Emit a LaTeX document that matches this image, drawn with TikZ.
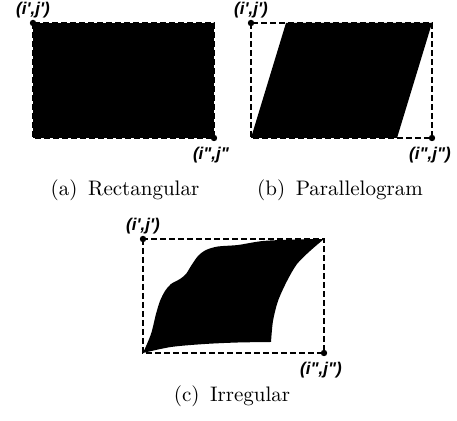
\documentclass[tikz,border=0pt]{standalone}
\usepackage{fontspec}
\newfontfamily\lblfont{Liberation Sans}
\usetikzlibrary{positioning}

\begin{document}
\begin{tikzpicture}[
  x=0.5pt, y=-0.5pt,
  line width=0.75pt,
  frame/.style={dash pattern=on 3pt off 1.5pt},
  dot/.style={circle,fill=black,inner sep=0pt,minimum size=3.2pt},
  corner/.style={font=\lblfont\bfseries\itshape\fontsize{8.5}{10}\selectfont,inner sep=0pt},
  caption/.style={font=\fontsize{10.5}{12}\selectfont,inner sep=0pt}
]%
  \useasboundingbox (0,0) rectangle (457,421);

  % (a) rectangular
  \node[dot] (a1) at (33,23) {};
  \node[dot] (a2) at (214,138) {};
  \fill (a1.center) rectangle (a2.center);
  \draw[frame] (a1.center) rectangle (a2.center);
  \node[corner,above=0pt of a1] (la1) {(i\textquotesingle,j\textquotesingle)};
  \node[corner,below=2pt of a2,xshift=-1.5pt] (la2) {(i",j"};
  \node[caption] (ca) at (125,190) {(a)\enspace Rectangular};

  % (b) parallelogram
  \node[dot] (b1) at (251,23) {};
  \node[dot] (b2) at (432,138) {};
  \coordinate (b3) at (286,23);
  \coordinate (b4) at (397,138);
  \draw[frame] (b1.center) rectangle (b2.center);
  \fill (b1.center |- b2.center) -- (b3) -- (b2.center |- b1.center) -- (b4) -- cycle;
  \node[corner,above=0pt of b1] (lb1) {(i\textquotesingle,j\textquotesingle)};
  \node[corner,below=2pt of b2,xshift=-1pt] (lb2) {(i",j")};
  \node[caption] (cb) at (340,190) {(b)\enspace Parallelogram};

  % (c) irregular
  \node[dot] (c1) at (143,239) {};
  \node[dot] (c2) at (324,353) {};
  \draw[frame] (c1.center) rectangle (c2.center);
  \fill plot[smooth] coordinates {(143,353) (151,334) (156,314) (160,301)
      (165,291) (171,284) (180,279) (186,274) (191,266) (198,256)
      (206,250) (218,246.5) (238,245) (263,241) (297,239.5) (324,239)}
    -- plot[smooth] coordinates {(324,239) (310,251) (297,264) (287,281)
      (278,301) (273,321) (271,342)}
    -- plot[smooth] coordinates {(271,342) (238,342.5) (205,344) (171,347) (143,353)}
    -- cycle;
  \node[corner,above=0pt of c1] (lc1) {(i\textquotesingle,j\textquotesingle)};
  \node[corner,below=2pt of c2,xshift=-1.5pt] (lc2) {(i",j")};
  \node[caption] (cc) at (232,396) {(c)\enspace Irregular};
\end{tikzpicture}
\end{document}
